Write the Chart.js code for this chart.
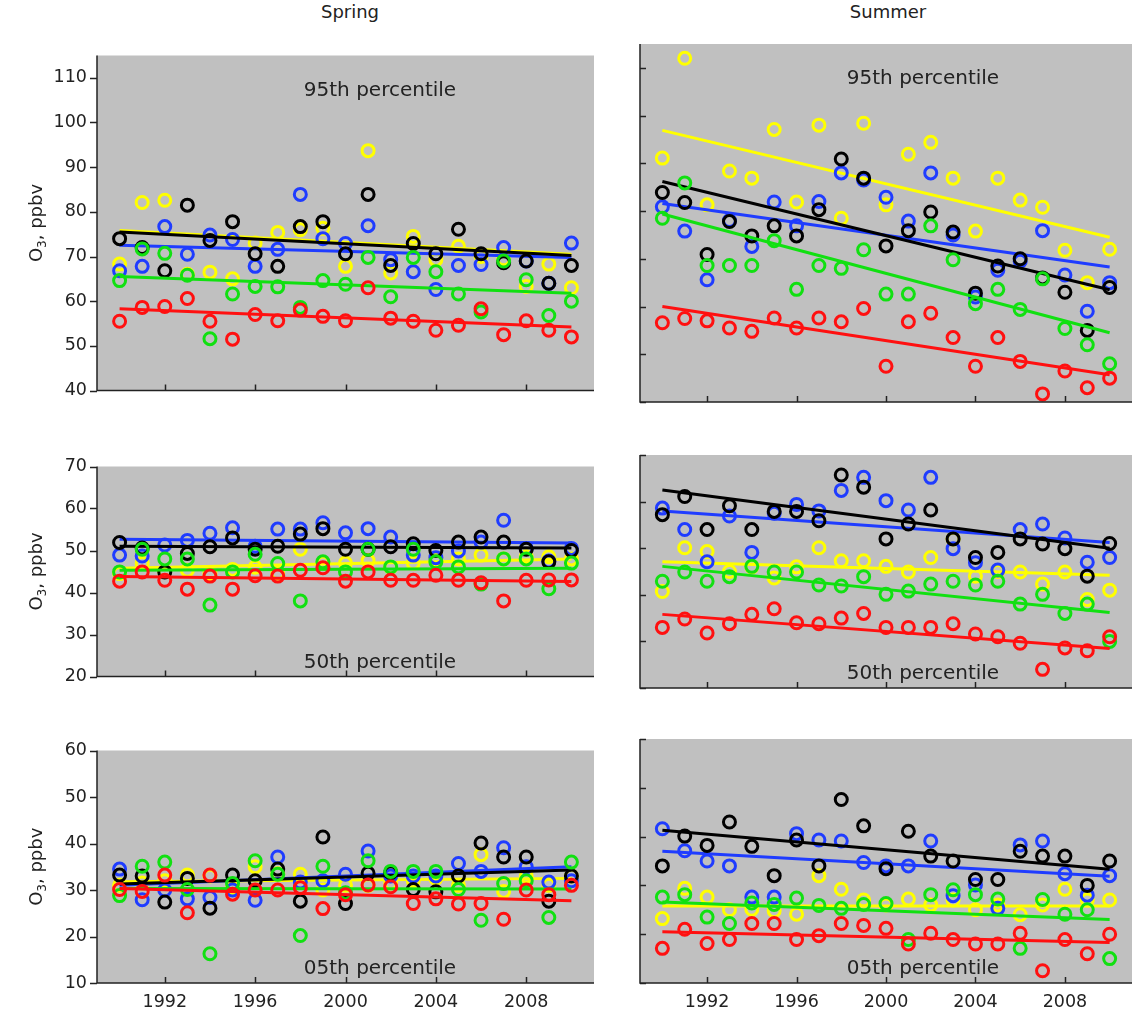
<!DOCTYPE html>
<html lang="en">
<head>
<meta charset="UTF-8">
<title>O3 percentiles, Spring / Summer</title>
<script src="https://cdn.jsdelivr.net/npm/chart.js"></script>
<style>
    body { margin: 0; background: #fff; overflow: hidden; font-family: "DejaVu Sans", sans-serif; }
    #fig { position: relative; width: 1141px; height: 1017px; overflow: hidden; }
    canvas { position: absolute; }
    .season { position: absolute; top: 0; font-size: 18px; line-height: 24px; color: #222; transform: translateX(-50%); }
</style>
</head>
<body>
<div id="fig">
    <div class="season" style="left:350px">Spring</div>
    <div class="season" style="left:888px">Summer</div>
    <canvas id="c0"></canvas><canvas id="c1"></canvas>
    <canvas id="c2"></canvas><canvas id="c3"></canvas>
    <canvas id="c4"></canvas><canvas id="c5"></canvas>
</div>
<script>
// years of the points, x tick labels, ends of the trend lines
const years = [1990, 1991, 1992, 1993, 1994, 1995, 1996, 1997, 1998, 1999, 2000,
               2001, 2002, 2003, 2004, 2005, 2006, 2007, 2008, 2009, 2010];
const xTicks = [1992, 1996, 2000, 2004, 2008];
const trendYears = [1990, 2010];
const yTicksTop = [40, 50, 60, 70, 80, 90, 100, 110];
const yTicksMid = [20, 30, 40, 50, 60, 70];
const yTicksLow = [10, 20, 30, 40, 50, 60];

// Spring, 95th percentile
const sp95Yellow = [68.3, 82.1, 82.6, 66, 66.5, 65, 73, 75.4, 76, 76.3, 67.8, 93.7, 66.3, 74.5, 69.3, 72.3, 70, 69.5, 63.3, 68.3, 63];
const sp95Black  = [74, 72, 66.8, 81.5, 73.6, 77.8, 70.6, 67.8, 76.7, 77.8, 70.6, 83.9, 68, 72.9, 70.6, 76.1, 70.6, 68.6, 69, 64, 68];
const sp95Blue   = [66.8, 67.8, 76.7, 70.5, 74.8, 73.8, 67.8, 71.6, 83.9, 74, 72.9, 76.9, 69.3, 66.6, 62.6, 68, 68.2, 72, 69, 64, 73];
const sp95Green  = [64.6, 71.7, 70.7, 65.8, 51.6, 61.6, 63.3, 63.2, 58.6, 64.6, 63.8, 69.8, 61, 69.8, 66.6, 61.6, 57.6, 69, 64.8, 56.8, 60];
const sp95Red    = [55.5, 58.6, 58.8, 60.6, 55.5, 51.5, 57, 55.6, 58, 56.6, 55.6, 63, 56.2, 55.5, 53.5, 54.6, 58.3, 52.5, 55.6, 53.5, 52];
const sp95Trend  = [[75.8, 70.5], [75.5, 70.2], [72.5, 69.8], [65.5, 61.8], [58.3, 54.2]];

// Summer, 95th percentile
const su95Yellow = [91.1, 112, 81.3, 88.4, 86.9, 97.1, 81.9, 98, 78.5, 98.4, 81.3, 91.9, 94.4, 86.9, 75.8, 86.9, 82.3, 80.8, 71.8, 65, 72];
const su95Black  = [83.9, 81.8, 70.9, 77.8, 74.8, 76.9, 74.8, 80.3, 90.9, 86.9, 72.7, 75.9, 79.8, 75.6, 62.8, 68.5, 70, 66, 63, 55, 64];
const su95Blue   = [80.9, 75.8, 65.6, 78, 72.6, 81.9, 76.9, 82, 88, 86.5, 82.9, 77.9, 88, 75, 62, 67.6, 69.5, 75.9, 66.6, 59, 65];
const su95Green  = [78.5, 85.9, 68.6, 68.6, 68.6, 73.8, 63.6, 68.6, 68, 71.9, 62.6, 62.6, 76.9, 69.8, 60.6, 63.6, 59.4, 65.8, 55.4, 52, 48];
const su95Red    = [56.6, 57.5, 57, 55.5, 54.8, 57.6, 55.5, 57.6, 56.8, 59.6, 47.5, 56.8, 58.6, 53.5, 47.5, 53.5, 48.5, 41.7, 46.5, 43, 45];
const su95Trend  = [[96.9, 74.5], [86.2, 63.5], [81.6, 68.3], [79.4, 54.5], [60, 45.7]];

// Spring, 50th percentile
const sp50Yellow = [44.5, 46.9, 45, 45.3, 44.5, 45.5, 46, 44.6, 50.3, 47, 47, 47.6, 46, 47, 48, 48, 48.9, 48, 48.5, 48.5, 48];
const sp50Black  = [51.9, 50.6, 44.9, 49.3, 50.9, 53, 50.3, 51, 53.9, 55.2, 50.3, 50.3, 50.9, 51.6, 50, 52, 53.2, 52, 50.3, 47.3, 50];
const sp50Blue   = [48.9, 48.7, 51.3, 52.4, 54.1, 55.4, 51, 55.1, 55.1, 56.6, 54.2, 55.2, 53.2, 48.9, 48.3, 49.9, 52, 57.2, 50.5, 47.5, 50.5];
const sp50Green  = [44.9, 50.3, 48, 48, 37, 44.9, 49.1, 46.9, 38, 47.3, 44.9, 50.3, 46.1, 50.3, 47.3, 46.1, 42, 48, 48, 40.9, 47];
const sp50Red    = [42.7, 44.9, 42.9, 40.8, 43.9, 40.8, 44, 43.9, 45.3, 45.9, 42.7, 44.9, 42.9, 42.9, 44.1, 42.9, 42.3, 38, 42.9, 43, 43];
const sp50Trend  = [[45.8, 48], [51, 50.6], [52.7, 51.8], [45.3, 45.8], [43.8, 42.6]];

// Summer, 50th percentile
const su50Yellow = [40.7, 50.1, 49.3, 45, 46, 43.6, 46, 50.1, 47.3, 47.3, 46.1, 44.9, 48, 52, 44, 45, 44.9, 42.3, 44.9, 39, 41];
const su50Black  = [57.2, 61.1, 54, 59.1, 54, 57.9, 57.9, 55.9, 65.7, 63.1, 52, 55.2, 58.2, 52, 48, 49.1, 52, 50.9, 49.9, 44, 51];
const su50Blue   = [58.6, 54, 47.1, 56.9, 49.1, 57.5, 59.4, 58, 62.4, 65.2, 60.2, 58.2, 65.2, 49.9, 46.9, 45.3, 54, 55.2, 52.2, 47, 48];
const su50Green  = [42.9, 44.9, 42.9, 43.9, 46.1, 44.9, 44.9, 42.1, 41.9, 43.9, 40.1, 40.8, 42.3, 42.9, 42.1, 42.9, 38, 40.1, 36, 38, 30];
const su50Red    = [33, 34.8, 31.8, 33.8, 35.8, 37, 34, 33.8, 35, 36, 33, 33, 33, 33.8, 31.6, 31, 29.6, 24, 28.6, 28, 31];
const su50Trend  = [[47.1, 44.2], [62.5, 50], [58, 51.2], [46.1, 36.2], [35.8, 28.5]];

// Spring, 05th percentile
const sp05Yellow = [31, 31.5, 32, 33.2, 33, 30.5, 35, 33.5, 33.4, 30, 31, 31, 31.5, 32, 32.5, 31, 37.6, 29.7, 33, 31, 33];
const sp05Black  = [33.2, 33, 27.4, 32.5, 26.1, 33.2, 32, 34.5, 27.6, 41.4, 27.1, 33.6, 33.7, 30.1, 29.6, 33, 40.1, 37.1, 37.1, 27.6, 33];
const sp05Blue   = [34.5, 27.9, 30, 28.1, 28.4, 30, 27.8, 37.1, 31.7, 32, 33.4, 38.4, 33, 33, 33, 35.7, 34, 39.1, 35, 31.7, 32];
const sp05Green  = [28.8, 35.1, 36, 30.1, 16.3, 31.4, 36.3, 33.4, 20.2, 35.1, 29.4, 36.3, 34, 34, 34, 30.1, 23.5, 31.4, 32, 24.1, 36];
const sp05Red    = [30.1, 29.7, 33.2, 25.1, 33.2, 29.1, 30, 30, 30.5, 26, 29, 31.1, 30.7, 27.1, 28.1, 27, 27.1, 23.7, 30, 29, 31];
const sp05Trend  = [[31.8, 32.5], [31.3, 34.3], [31, 35], [30.3, 30.2], [30.3, 27.7]];

// Summer, 05th percentile
const su05Yellow = [23.2, 29.4, 27.6, 25, 25.1, 24.8, 24.1, 32, 29.2, 27, 26, 27.2, 26, 27, 25, 26, 24, 26, 29.2, 27, 27];
const su05Black  = [34, 40.1, 38.2, 43, 38, 32, 39.3, 34, 47.6, 42.2, 33.4, 41.1, 36, 35, 31.2, 31.2, 37, 36, 36, 30, 35];
const su05Blue   = [41.6, 37.1, 35, 34, 27.6, 27.6, 40.6, 39.3, 39.1, 34.7, 34, 34, 39.1, 27.9, 30.1, 25.3, 38.3, 39.1, 32.4, 28, 32];
const su05Green  = [27.6, 28.1, 23.5, 22.2, 26.4, 26.1, 27.4, 25.9, 25.3, 26.1, 26.3, 18.9, 28.1, 29.1, 28.1, 27.2, 17.1, 27.1, 24.1, 25, 15];
const su05Red    = [17.1, 21, 18.1, 18.9, 22.2, 22.2, 18.9, 19.7, 22.2, 21.8, 21.2, 18, 20.2, 18.9, 18, 18, 20.2, 12.5, 18.9, 16, 20];
const su05Trend  = [[25.8, 25.8], [41.3, 33.3], [37, 31.9], [26.6, 23], [20.5, 18.3]];

// series order: yellow, black, blue, green, red
const colors = ['#ffff00', '#000000', '#1f3cff', '#11e011', '#ff1010'];
const layer = [4, 2, 3, 1, 0];   // lower = drawn on top

const rows = [{ top: 35, h: 376 }, { top: 446, h: 251 }, { top: 730, h: 253 }];
const txt = '#222';
const face = '"DejaVu Sans"';

const panels = [
    { id: 'c0', col: 0, row: 0, ymin: 40, ymax: 115, yt: yTicksTop, label: '95th percentile', labelAt: 'top',
      series: [sp95Yellow, sp95Black, sp95Blue, sp95Green, sp95Red], trend: sp95Trend },
    { id: 'c1', col: 1, row: 0, ymin: 40, ymax: 115, yt: yTicksTop, label: '95th percentile', labelAt: 'top',
      series: [su95Yellow, su95Black, su95Blue, su95Green, su95Red], trend: su95Trend },
    { id: 'c2', col: 0, row: 1, ymin: 20, ymax: 70, yt: yTicksMid, label: '50th percentile', labelAt: 'bottom',
      series: [sp50Yellow, sp50Black, sp50Blue, sp50Green, sp50Red], trend: sp50Trend },
    { id: 'c3', col: 1, row: 1, ymin: 20, ymax: 70, yt: yTicksMid, label: '50th percentile', labelAt: 'bottom',
      series: [su50Yellow, su50Black, su50Blue, su50Green, su50Red], trend: su50Trend },
    { id: 'c4', col: 0, row: 2, ymin: 10, ymax: 60, yt: yTicksLow, label: '05th percentile', labelAt: 'bottom',
      series: [sp05Yellow, sp05Black, sp05Blue, sp05Green, sp05Red], trend: sp05Trend },
    { id: 'c5', col: 1, row: 2, ymin: 10, ymax: 60, yt: yTicksLow, label: '05th percentile', labelAt: 'bottom',
      series: [su05Yellow, su05Black, su05Blue, su05Green, su05Red], trend: su05Trend }
];

// grey plot box, axis lines, tick marks, panel text
const panelDecor = {
    id: 'panelDecor',
    beforeDraw(chart) {
        const a = chart.chartArea, ctx = chart.ctx;
        ctx.save();
        ctx.fillStyle = '#c0c0c0';
        ctx.fillRect(a.left, a.top, a.right - a.left, a.bottom - a.top);
        ctx.restore();
    },
    afterDraw(chart, args, opts) {
        const a = chart.chartArea, ctx = chart.ctx;
        const sx = chart.scales.x, sy = chart.scales.y;
        ctx.save();
        ctx.strokeStyle = txt;
        ctx.lineWidth = 1.5;
        ctx.beginPath();
        ctx.moveTo(a.left, a.top);
        ctx.lineTo(a.left, a.bottom);
        ctx.lineTo(a.right, a.bottom);
        sx.ticks.forEach(t => {
            const px = Math.round(sx.getPixelForValue(t.value)) + 0.5;
            ctx.moveTo(px, a.bottom);
            ctx.lineTo(px, a.bottom - 6);
        });
        sy.ticks.forEach(t => {
            const py = Math.round(sy.getPixelForValue(t.value)) + 0.5;
            ctx.moveTo(a.left, py);
            ctx.lineTo(opts.left ? a.left - 7 : a.left + 6, py);
        });
        ctx.stroke();

        ctx.fillStyle = txt;
        ctx.font = '20px ' + face;
        ctx.textAlign = 'center';
        ctx.textBaseline = 'middle';
        const ly = opts.labelAt === 'top' ? a.top + 35 : a.bottom - 14;
        ctx.fillText(opts.label, a.left + 283, ly);

        if (opts.left) {
            // rotated y title: O, subscript 3, ", ppbv"
            ctx.translate(36, (a.top + a.bottom) / 2);
            ctx.rotate(-Math.PI / 2);
            ctx.textAlign = 'left';
            ctx.textBaseline = 'alphabetic';
            const big = '18px ' + face, small = '12px ' + face;
            ctx.font = big;
            const wO = ctx.measureText('O').width, wRest = ctx.measureText(', ppbv').width;
            ctx.font = small;
            const w3 = ctx.measureText('3').width;
            const x0 = -(wO + w3 + wRest) / 2;
            ctx.font = big;
            ctx.fillText('O', x0, 6);
            ctx.font = small;
            ctx.fillText('3', x0 + wO, 10);
            ctx.font = big;
            ctx.fillText(', ppbv', x0 + wO + w3, 6);
        }
        ctx.restore();
    }
};

panels.forEach(p => {
    const cv = document.getElementById(p.id);
    const row = rows[p.row];
    const yw = p.col === 0 ? 97 : 4;
    const xh = p.row === 2 ? 40 : 0;
    cv.width = yw + 506;
    cv.height = row.h + xh;
    cv.style.left = (p.col === 0 ? 0 : 631) + 'px';
    cv.style.top = row.top + 'px';

    const datasets = [];
    p.series.forEach((vals, i) => {
        datasets.push({
            data: trendYears.map((yr, k) => ({ x: yr, y: p.trend[i][k] })),
            showLine: true, borderColor: colors[i], borderWidth: 3,
            pointRadius: 0, order: layer[i] * 2
        });
        datasets.push({
            data: years.map((yr, k) => ({ x: yr, y: vals[k] })),
            showLine: false, borderColor: colors[i], backgroundColor: 'rgba(0,0,0,0)',
            borderWidth: 3, pointRadius: 6, order: layer[i] * 2 + 1
        });
    });

    new Chart(cv, {
        type: 'scatter',
        data: { datasets: datasets },
        options: {
            responsive: false,
            animation: false,
            events: [],
            layout: { padding: 0 },
            plugins: {
                legend: { display: false },
                tooltip: { enabled: false },
                panelDecor: { left: p.col === 0, label: p.label, labelAt: p.labelAt }
            },
            scales: {
                x: {
                    type: 'linear', min: 1989, max: 2011,
                    grid: { display: false, drawTicks: false },
                    border: { display: false },
                    afterBuildTicks: s => { s.ticks = xTicks.map(v => ({ value: v })); },
                    afterFit: s => { s.height = xh; },
                    ticks: {
                        display: p.row === 2, padding: 9, color: txt,
                        font: { family: 'DejaVu Sans', size: 17.5 },
                        callback: v => String(v)
                    }
                },
                y: {
                    min: p.ymin, max: p.ymax,
                    grid: { display: false, drawTicks: false },
                    border: { display: false },
                    afterBuildTicks: s => { s.ticks = p.yt.map(v => ({ value: v })); },
                    afterFit: s => { s.width = yw; },
                    ticks: {
                        display: p.col === 0, padding: 10, color: txt,
                        font: { family: 'DejaVu Sans', size: 17.5 }
                    }
                }
            }
        },
        plugins: [panelDecor]
    });
});
</script>
</body>
</html>
